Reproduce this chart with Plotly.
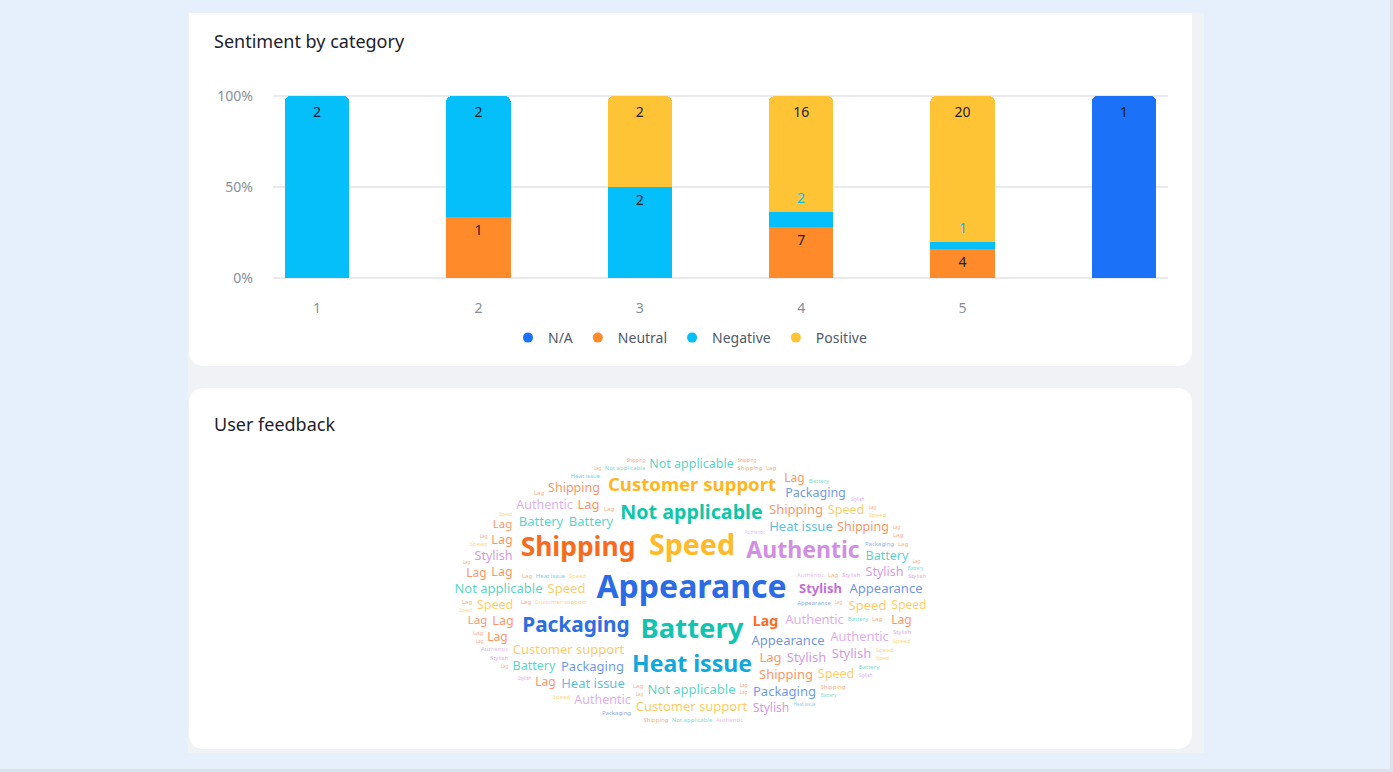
import math
import numpy as np
import plotly.graph_objects as go

W, H = 1393, 772

# ---------------- Data: sentiment by category ----------------
categories = ["1", "2", "3", "4", "5", "N/A"]
category_labels = ["1", "2", "3", "4", "5", ""]
series_names = ["N/A", "Neutral", "Negative", "Positive"]
na_counts = [None, None, None, None, None, 1]
neutral_counts = [None, 1, None, 7, 4, None]
negative_counts = [2, 2, 2, 2, 1, None]
positive_counts = [None, None, 2, 16, 20, None]
y_tick_values = [0, 50, 100]
y_tick_labels = ["0%", "50%", "100%"]

# ---------------- Data: user feedback word cloud ----------------
words = ["Appearance", "Speed", "Battery", "Shipping", "Authentic", "Heat issue",
         "Packaging", "Not applicable", "Customer support", "Lag", "Stylish"]
word_weights = [20, 17, 16, 15, 12, 12, 10, 9, 8, 4, 3]

# ---------------- Styles ----------------
FONT = "Noto Sans"
series_colors = ["#1B72F9", "#FF8A29", "#05BFFA", "#FFC336"]
word_colors = ["#2B6BE6", "#FFBA2A", "#12C4B0", "#F86B1E", "#D28EE3", "#13A7DB",
               "#2E6FDF", "#10C6A9", "#FFB61E", "#FF6B21", "#C46ED8"]


def X(x):
    return x / W


def Y(y):
    return 1 - y / H


def rrect_path(x0, y0, x1, y1, rt, rb):
    return (f"M {X(x0+rt)},{Y(y0)} L {X(x1-rt)},{Y(y0)} Q {X(x1)},{Y(y0)} {X(x1)},{Y(y0+rt)} "
            f"L {X(x1)},{Y(y1-rb)} Q {X(x1)},{Y(y1)} {X(x1-rb)},{Y(y1)} "
            f"L {X(x0+rb)},{Y(y1)} Q {X(x0)},{Y(y1)} {X(x0)},{Y(y1-rb)} "
            f"L {X(x0)},{Y(y0+rt)} Q {X(x0)},{Y(y0)} {X(x0+rt)},{Y(y0)} Z")


fig = go.Figure()

# ---------------- Stacked 100% bars ----------------
series = [na_counts, neutral_counts, negative_counts, positive_counts]
totals = [sum(v or 0 for v in col) for col in zip(*series)]
cum = [0.0] * len(categories)
annotations = []
for name, vals, col in zip(series_names, series, series_colors):
    shares = [(v or 0) / t * 100 if t else 0 for v, t in zip(vals, totals)]
    text = [str(v) if (v and s >= 10) else "" for v, s in zip(vals, shares)]
    fig.add_trace(go.Bar(
        x=categories, y=vals, name=name, marker=dict(color=col, line=dict(width=0)),
        text=text, textposition="inside", insidetextanchor="end", textangle=0,
        insidetextfont=dict(family=FONT, size=14, color="#1D2129"),
        showlegend=False, hoverinfo="skip", xaxis="x", yaxis="y"))
    for i, (v, s) in enumerate(zip(vals, shares)):
        top = cum[i] + s
        if v and s < 10:
            # small segment: label sits just above it, in the series colour
            annotations.append(dict(x=i, y=top, xref="x", yref="y", text=str(v),
                                    showarrow=False, yanchor="bottom", yshift=3,
                                    font=dict(family=FONT, size=14, color=col)))
        cum[i] = top

# legend entries with round markers
for name, col in zip(series_names, series_colors):
    fig.add_trace(go.Scatter(x=[None], y=[None], mode="markers", name=name,
                             marker=dict(size=10, color=col, symbol="circle"),
                             hoverinfo="skip", xaxis="x", yaxis="y"))

# ---------------- Word cloud layout (nearest-to-centre packing in an ellipse) ----------------
CX0, CY0, CX1, CY1 = 440, 445, 945, 735
Wb, Hb = CX1 - CX0, CY1 - CY0
ecx, ecy, ea, eb = 692 - CX0, 590 - CY0, 240, 138
yy, xx = np.mgrid[0:Hb, 0:Wb]
occupied = (((xx + 0.5 - ecx) / ea) ** 2 + ((yy + 0.5 - ecy) / eb) ** 2) > 1


def text_width(s, size, bold):
    w = 0.0
    for ch in s:
        if ch in "il":
            w += 0.26
        elif ch in "jtf":
            w += 0.36
        elif ch == "r":
            w += 0.42
        elif ch == " ":
            w += 0.26
        elif ch in "mw":
            w += 0.88
        elif ch.isupper():
            w += 0.66
        elif ch in "csz":
            w += 0.49
        elif ch == "y":
            w += 0.52
        else:
            w += 0.59
    return w * size * (1.1 if bold else 1.0)


def place(w, h):
    if h >= Hb or w >= Wb:
        return None
    S = np.zeros((Hb + 1, Wb + 1), dtype=np.int32)
    S[1:, 1:] = occupied.cumsum(0).cumsum(1)
    sums = S[h:, w:] - S[:-h, w:] - S[h:, :-w] + S[:-h, :-w]
    ny, nx = sums.shape
    cy = np.arange(ny)[:, None] + h / 2
    cx = np.arange(nx)[None, :] + w / 2
    d = ((cx - ecx) / ea) ** 2 + ((cy - ecy) / eb) ** 2
    d = np.where(sums == 0, d, np.inf)
    idx = int(np.argmin(d))
    if not np.isfinite(d.flat[idx]):
        return None
    y0, x0 = divmod(idx, nx)
    occupied[y0:y0 + h, x0:x0 + w] = True
    return x0 + w / 2, y0 + h / 2


def to_rgba(hexcol, a):
    hexcol = hexcol.lstrip("#")
    r, g, b = int(hexcol[0:2], 16), int(hexcol[2:4], 16), int(hexcol[4:6], 16)
    return f"rgba({r},{g},{b},{a})"


wmin, wmax = min(word_weights), max(word_weights)
main = dict(x=[], y=[], t=[], s=[], c=[])
for wd, wt, col in zip(words, word_weights, word_colors):
    size = 13 + (wt - wmin) / (wmax - wmin) * 19
    bw = int(math.ceil(text_width(wd, size, True))) + 6
    bh = int(math.ceil(size * 1.3)) + 2
    p = place(bw, bh)
    if p:
        main["x"].append(CX0 + p[0]); main["y"].append(CY0 + p[1])
        main["t"].append(wd); main["s"].append(size); main["c"].append(col)

fill = dict(x=[], y=[], t=[], s=[], c=[])


def add_fillers(sizes, alpha, cap, hf):
    count = 0
    n = len(words)
    for r, size in enumerate(sizes):
        placed_round = 0
        for k in range(n):
            i = (k * 4 + r * 3) % n
            wd = words[i]
            bw = int(math.ceil(text_width(wd, size, False) * 1.04)) + 2
            bh = int(math.ceil(size * hf))
            p = place(bw, bh)
            if p:
                fill["x"].append(CX0 + p[0]); fill["y"].append(CY0 + p[1])
                fill["t"].append(wd); fill["s"].append(size)
                fill["c"].append(to_rgba(word_colors[i], alpha))
                count += 1
                placed_round += 1
                if count >= cap:
                    return
        if placed_round == 0:
            return


add_fillers([13, 13, 12.5, 12.5, 12.5, 12, 12, 12, 12, 12, 11.5, 11.5], 0.72, 78, 1.25)
add_fillers([6] * 12, 0.6, 80, 1.35)
add_fillers([4.5] * 12, 0.6, 60, 1.35)

fig.add_trace(go.Scatter(x=fill["x"], y=fill["y"], text=fill["t"], mode="text",
                         textposition="middle center", cliponaxis=False,
                         textfont=dict(family=FONT, size=fill["s"], color=fill["c"]),
                         hoverinfo="skip", showlegend=False, xaxis="x2", yaxis="y2"))
fig.add_trace(go.Scatter(x=main["x"], y=main["y"], text=main["t"], mode="text",
                         textposition="middle center", cliponaxis=False,
                         textfont=dict(family=FONT, size=main["s"], color=main["c"], weight="bold"),
                         hoverinfo="skip", showlegend=False, xaxis="x2", yaxis="y2"))

# ---------------- Page decoration ----------------
shapes = [
    dict(type="rect", xref="paper", yref="paper", x0=X(188), x1=X(1204), y0=Y(753), y1=Y(13),
         fillcolor="#F0F2F5", line=dict(width=0), layer="below"),
    dict(type="path", xref="paper", yref="paper", path=rrect_path(189, 13, 1192, 366, 0.01, 16),
         fillcolor="#FFFFFF", line=dict(width=0), layer="below"),
    dict(type="path", xref="paper", yref="paper", path=rrect_path(189, 388, 1192, 749, 16, 16),
         fillcolor="#FFFFFF", line=dict(width=0), layer="below"),
    dict(type="rect", xref="paper", yref="paper", x0=X(1390), x1=X(1393), y0=Y(772), y1=Y(0),
         fillcolor="#DDE2EA", line=dict(width=0), layer="below"),
    dict(type="rect", xref="paper", yref="paper", x0=X(0), x1=X(1393), y0=Y(772), y1=Y(769),
         fillcolor="#DDE2EA", line=dict(width=0), layer="below"),
]

annotations += [
    dict(x=X(212), y=Y(41), xref="paper", yref="paper", text="Sentiment by category",
         showarrow=False, xanchor="left", yanchor="middle",
         font=dict(family=FONT, size=18, color="#1D2129")),
    dict(x=X(212), y=Y(424), xref="paper", yref="paper", text="User feedback",
         showarrow=False, xanchor="left", yanchor="middle",
         font=dict(family=FONT, size=18, color="#1D2129")),
]

YPAD = 2.0
PX_PER_PCT = 182 / 100
fig.update_layout(
    width=W, height=H, margin=dict(l=0, r=0, t=0, b=0, pad=0, autoexpand=False),
    paper_bgcolor="#E6EFFC", plot_bgcolor="rgba(0,0,0,0)",
    barmode="stack", barnorm="percent", bargap=0.6, barcornerradius=6,
    font=dict(family=FONT),
    shapes=shapes, annotations=annotations,
    legend=dict(orientation="h", x=X(690), y=Y(338), xanchor="center", yanchor="middle",
                traceorder="normal",
                font=dict(family=FONT, size=14, color="#4E5969"), bgcolor="rgba(0,0,0,0)",
                itemwidth=30, tracegroupgap=0),
    xaxis=dict(domain=[X(273), X(1168)], type="category", categoryorder="array",
               categoryarray=categories, range=[-0.2725, 5.2725],
               tickvals=categories, ticktext=category_labels, showgrid=False,
               zeroline=False, showline=False, ticks="", ticklabelstandoff=16,
               tickfont=dict(family=FONT, size=14, color="#86909C"), fixedrange=True),
    yaxis=dict(domain=[Y(278 + YPAD * PX_PER_PCT), Y(96 - YPAD * PX_PER_PCT)],
               range=[-YPAD, 100 + YPAD],
               tickvals=y_tick_values, ticktext=y_tick_labels,
               showgrid=True, gridcolor="#E8EAEE", gridwidth=1.5, zeroline=False,
               showline=False, ticks="", ticklabelstandoff=19,
               tickfont=dict(family=FONT, size=14, color="#86909C"), fixedrange=True),
    xaxis2=dict(domain=[X(CX0), X(CX1)], range=[CX0, CX1], visible=False, anchor="y2",
                fixedrange=True),
    yaxis2=dict(domain=[Y(CY1), Y(CY0)], range=[CY1, CY0], visible=False, anchor="x2",
                fixedrange=True),
)

fig.write_html(
    "out.html", config={"displayModeBar": False},
    post_script=("document.body.style.margin='0';document.body.style.overflow='hidden';"
                 "var gd=document.getElementById('{plot_id}');gd.style.position='fixed';"
                 "gd.style.top='0px';gd.style.left='0px';"))
